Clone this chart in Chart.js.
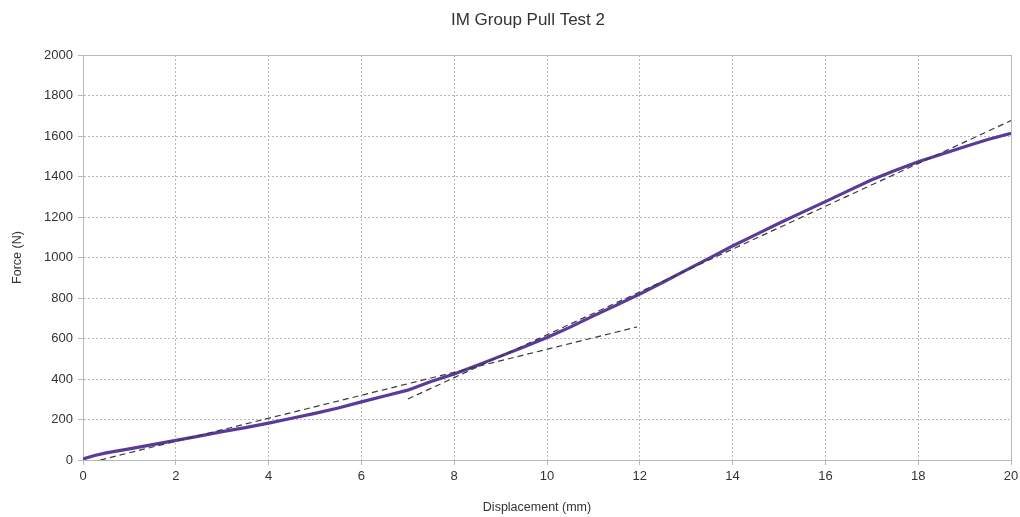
<!DOCTYPE html>
<html>
<head>
<meta charset="utf-8">
<script src="https://cdn.jsdelivr.net/npm/chart.js@4"></script>
<style>
  html, body { margin: 0; padding: 0; background: #ffffff; }
  #wrap { width: 1020px; height: 517px; position: relative; }
</style>
</head>
<body>
<div id="wrap"><canvas id="c"></canvas></div>
<script>
// Measured curve: displacement (mm) and force (N)
const displacement = [0, 0.25, 0.5, 0.75, 1, 1.5, 2, 2.5, 3, 3.5, 4, 4.5, 5, 5.5, 6, 6.5, 7, 7.5, 8, 8.5, 9, 9.5, 10, 10.5, 11, 11.5, 12, 12.5, 13, 13.5, 14, 14.5, 15, 15.5, 16, 16.5, 17, 17.5, 18, 18.5, 19, 19.5, 20];
const force = [5, 22, 35, 45, 55, 76, 97, 118, 140, 160, 182, 206, 230, 257, 287, 316, 345, 388, 425, 468, 513, 558, 605, 656, 712, 765, 820, 878, 938, 997, 1057, 1113, 1169, 1223, 1276, 1330, 1384, 1430, 1473, 1510, 1547, 1583, 1613];

// Fitted tangent lines (dashed)
const fit1X = [0.37, 11.94];
const fit1Y = [0, 657];
const fit2X = [7.0, 20];
const fit2Y = [301, 1676];

const xTicks = [0, 2, 4, 6, 8, 10, 12, 14, 16, 18, 20];
const yTicks = [0, 200, 400, 600, 800, 1000, 1200, 1400, 1600, 1800, 2000];

const chartTitle = 'IM Group Pull Test 2';
const xTitle = 'Displacement (mm)';
const yTitle = 'Force (N)';

const toPts = (xs, ys) => xs.map((x, i) => ({ x: x, y: ys[i] }));

const gridColor = '#b8b8b8';
const FONT = "'Liberation Sans', Arial, sans-serif";

// Draws the chart title and the x-axis title as canvas text at their reference positions
const titlesPlugin = {
  id: 'titles',
  afterDraw(chart) {
    const ctx = chart.ctx;
    ctx.save();
    ctx.fillStyle = '#333333';
    ctx.textAlign = 'center';
    ctx.textBaseline = 'middle';
    ctx.font = "17px " + FONT;
    ctx.fillText(chartTitle, 528, 20);
    ctx.font = "12.5px " + FONT;
    ctx.fillText(xTitle, 537, 508);
    ctx.restore();
  }
};

new Chart(document.getElementById('c'), {
  type: 'scatter',
  plugins: [titlesPlugin],
  data: {
    datasets: [
      {
        data: toPts(fit1X, fit1Y),
        showLine: true,
        borderColor: '#3a3a3a',
        borderWidth: 1.2,
        borderDash: [6, 4],
        pointRadius: 0,
        fill: false
      },
      {
        data: toPts(fit2X, fit2Y),
        showLine: true,
        borderColor: '#3a3a3a',
        borderWidth: 1.2,
        borderDash: [6, 4],
        pointRadius: 0,
        fill: false
      },
      {
        data: toPts(displacement, force),
        showLine: true,
        borderColor: '#5b3a9a',
        borderWidth: 3.2,
        pointRadius: 0,
        tension: 0,
        fill: false
      }
    ]
  },
  options: {
    responsive: true,
    maintainAspectRatio: false,
    animation: false,
    layout: { padding: { left: 0, right: 9, top: 55, bottom: 0 } },
    plugins: {
      legend: { display: false },
      tooltip: { enabled: false },
      title: { display: false }
    },
    scales: {
      x: {
        type: 'linear',
        min: 0,
        max: 20,
        afterBuildTicks: (scale) => { scale.ticks = xTicks.map(v => ({ value: v })); },
        afterFit: (scale) => { scale.height = 57; scale.paddingRight = 0; scale.paddingLeft = 0; },
        ticks: {
          color: '#333333',
          font: { family: FONT, size: 13 },
          padding: 4,
          maxRotation: 0,
          callback: (v) => String(v)
        },
        grid: {
          color: gridColor,
          lineWidth: 1,
          tickLength: 5,
          tickColor: gridColor
        },
        border: {
          display: true,
          color: gridColor,
          width: 1,
          dash: (ctx) => (ctx.index === 0 || ctx.index === xTicks.length - 1) ? [] : [2, 2]
        },
        title: { display: false }
      },
      y: {
        type: 'linear',
        min: 0,
        max: 2000,
        afterBuildTicks: (scale) => { scale.ticks = yTicks.map(v => ({ value: v })); },
        afterFit: (scale) => { scale.width = 83; scale.paddingTop = 0; scale.paddingBottom = 0; },
        ticks: {
          color: '#333333',
          font: { family: FONT, size: 13 },
          padding: 5,
          callback: (v) => String(v)
        },
        grid: {
          color: gridColor,
          lineWidth: 1,
          tickLength: 5,
          tickColor: gridColor
        },
        border: {
          display: true,
          color: gridColor,
          width: 1,
          dash: (ctx) => (ctx.index === 0 || ctx.index === yTicks.length - 1) ? [] : [2, 2]
        },
        title: {
          display: true,
          text: yTitle,
          color: '#333333',
          font: { family: FONT, size: 12.5 },
          padding: { top: 10, bottom: 0 }
        }
      }
    }
  }
});
</script>
</body>
</html>
